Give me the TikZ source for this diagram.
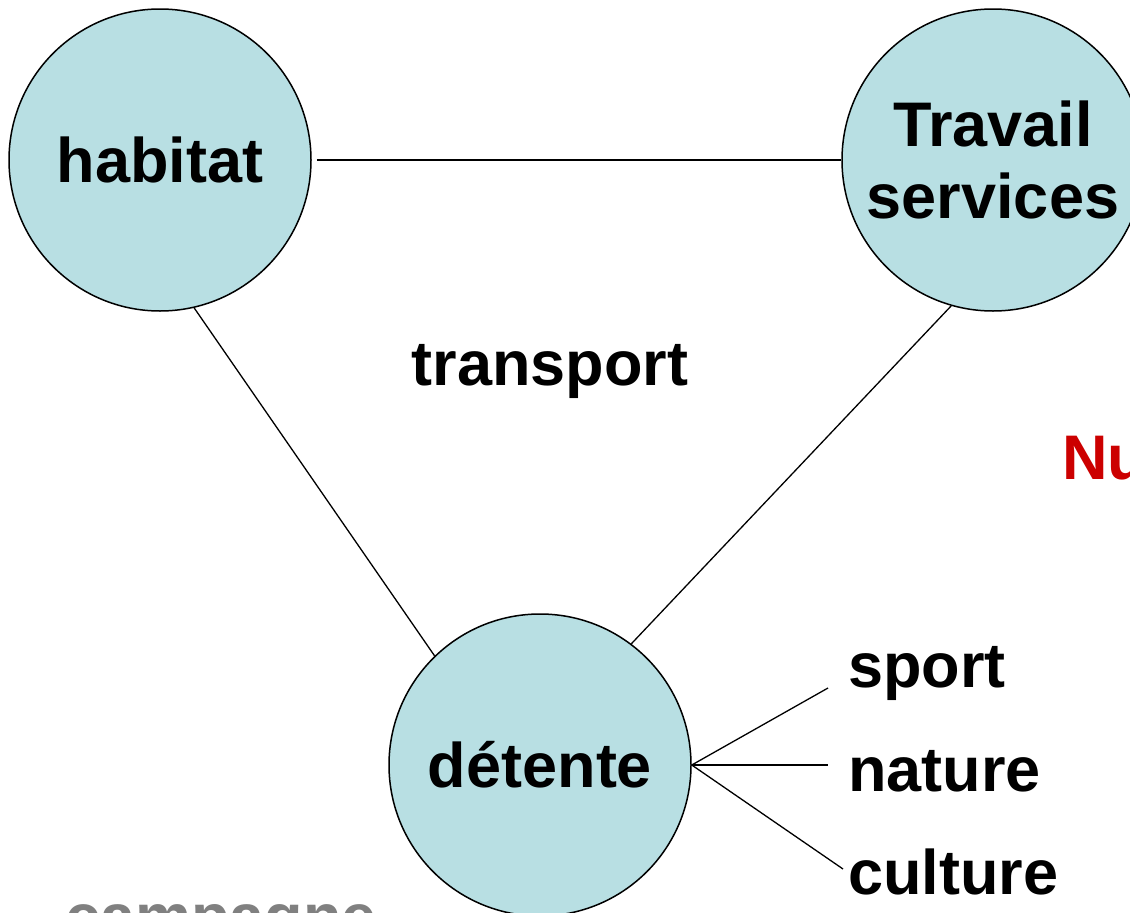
\documentclass[tikz,border=0pt]{standalone}
\usepackage{fontspec}
\setmainfont{Liberation Sans}
\definecolor{bubble}{RGB}{184,223,227}
\definecolor{redtxt}{RGB}{204,0,0}
\definecolor{graytxt}{RGB}{128,128,128}
\tikzset{
  bubble/.style={circle, draw=black, line width=1.5pt, fill=bubble, minimum size=302pt, inner sep=0pt,
     font=\fontsize{63}{72}\selectfont\bfseries, align=center},
  word/.style={font=\fontsize{63}{72}\selectfont\bfseries, inner sep=0pt, anchor=base west},
  link/.style={line width=1.3pt}
}
\begin{document}
\begin{tikzpicture}[x=1pt,y=-1pt]
\useasboundingbox (0,0) rectangle (1130,913);
\clip (0,0) rectangle (1130,913);
\node[bubble] (h) at (160,160) {habitat};
\node[bubble] (t) at (993,160) {Travail\\services};
\node[bubble] (d) at (540,765) {détente};
\node[word, anchor=base] (tr) at (550,385) {transport};
\node[word] (sp) at (848,687) {sport};
\node[word] (na) at (848,791) {nature};
\node[word] (cu) at (848,894) {culture};
\node[word, text=redtxt] (nu) at (1062,479) {Nu};
\node[word, text=graytxt] (ca) at (65,938) {campagne};
\coordinate (csp) at (828,688);
\coordinate (cna) at (828,765);
\coordinate (ccu) at (843,869);
\draw[link] ([xshift=5pt]h.east) -- (t.west);
\draw[link] (h.-77.7) -- (d.134);
\draw[link] (t.-106.6) -- (d.53);
\draw[link] (d.east) -- (csp);
\draw[link] (d.east) -- (cna);
\draw[link] (d.east) -- (ccu);
\end{tikzpicture}
\end{document}
